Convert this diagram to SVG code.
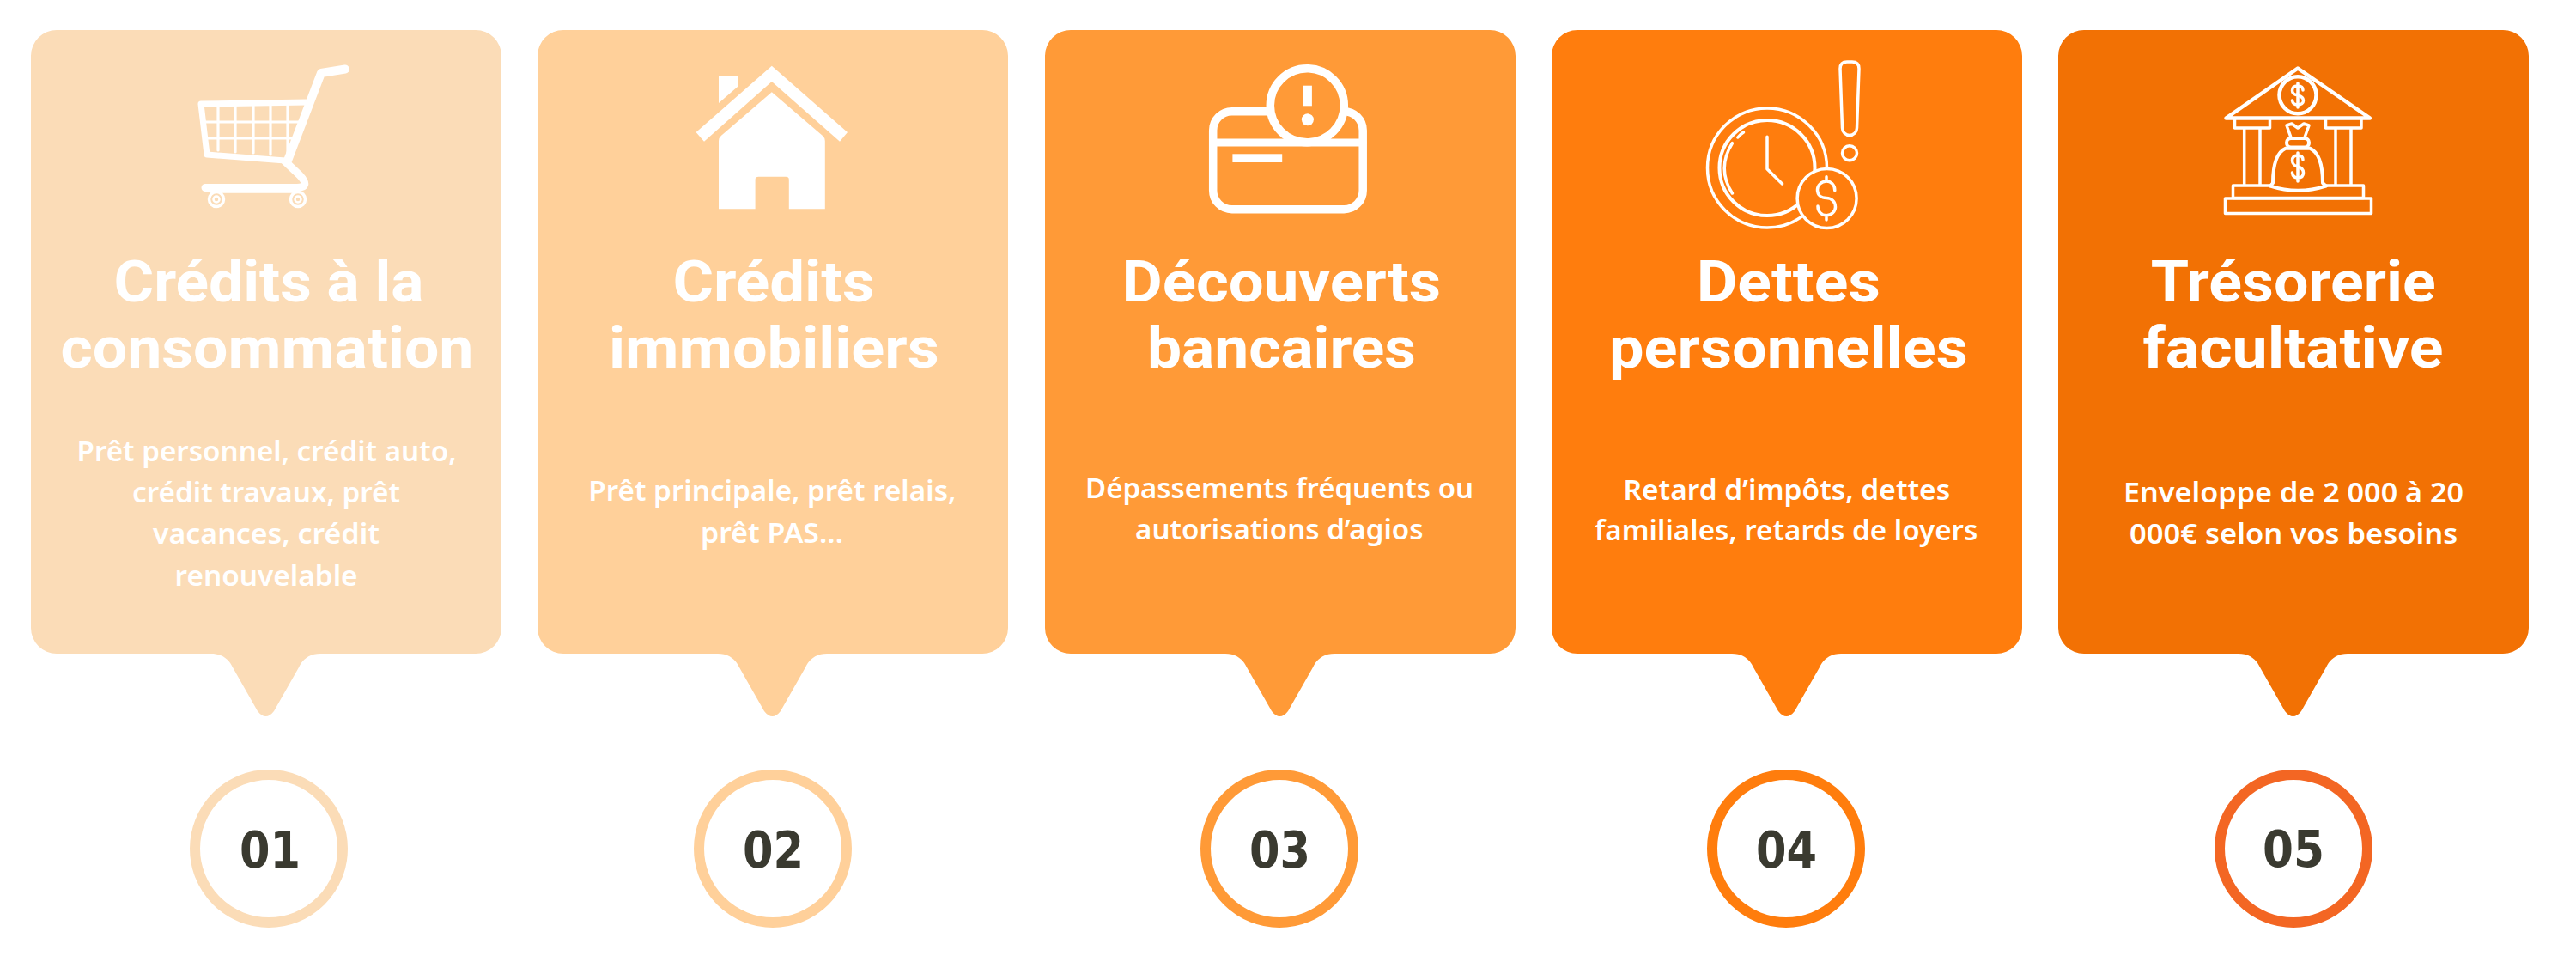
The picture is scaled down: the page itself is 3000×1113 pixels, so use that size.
<svg xmlns="http://www.w3.org/2000/svg" width="3000" height="1113" viewBox="0 0 3000 1113">
<style>
text{font-family:"Noto Sans","Open Sans","Liberation Sans",sans-serif;fill:#fff}
.t{font-size:66.500px;font-weight:700;font-family:Roboto,"Noto Sans",sans-serif}
.b{font-size:33px;font-weight:600}
.n{font-size:58px;font-weight:700;fill:#3a3a30;font-family:"DejaVu Sans",sans-serif}
.ring{fill:#fff;stroke-width:12}
.ic{fill:none;stroke:#fff;stroke-linecap:round;stroke-linejoin:round}
.w{fill:#fff}
</style>
<rect width="3000" height="1113" fill="#fff"/>
<g id="node-1">
<path fill="#fbdcb7" d="M66 35H554A30 30 0 0 1 584 65V731A30 30 0 0 1 554 761H373C360 761 352 768 348 777L319 828Q309.500 840 300 828L271 777C267 768 259 761 246 761H66A30 30 0 0 1 36 731V65A30 30 0 0 1 66 35Z"/>
<g id="icon-cart">
<path class="ic" stroke-width="10" d="M402 80.500L374 85L335 187"/>
<path class="ic" stroke-width="7" d="M357 119L234 121L241 180L332 187"/>
<path class="ic" stroke-width="3.200" d="M254 122V175M274 122V177M295 122V178M315 122V180M335 121V178M238 142H348M240 161H341"/>
<path class="ic" stroke-width="9" d="M332 188L349 204Q362 218 346 218.500H239"/>
<path class="ic" stroke-width="2.500" d="M246 223.500H345"/>
<circle class="ic" stroke-width="3.500" cx="252" cy="232" r="8.500"/><circle class="ic" stroke-width="2.500" cx="252" cy="232" r="3.500"/>
<circle class="ic" stroke-width="3.500" cx="347" cy="232" r="8.500"/><circle class="ic" stroke-width="2.500" cx="347" cy="232" r="3.500"/>
</g>
<text class="t" x="132.500" y="351" textLength="361" lengthAdjust="spacingAndGlyphs">Crédits à la</text>
<text class="t" x="70.500" y="428" textLength="481" lengthAdjust="spacingAndGlyphs">consommation</text>
<text class="b" x="89.500" y="536.700" textLength="442" lengthAdjust="spacingAndGlyphs">Prêt personnel, crédit auto,</text>
<text class="b" x="154" y="585" textLength="312" lengthAdjust="spacingAndGlyphs">crédit travaux, prêt</text>
<text class="b" x="178" y="633" textLength="264" lengthAdjust="spacingAndGlyphs">vacances, crédit</text>
<text class="b" x="203.600" y="681.700" textLength="213" lengthAdjust="spacingAndGlyphs">renouvelable</text>
<circle class="ring" stroke="#fbdcb7" cx="313" cy="988" r="86"/>
<text class="n" x="279" y="1010" textLength="71" lengthAdjust="spacingAndGlyphs">01</text>
</g>
<g id="node-2">
<path fill="#ffd09a" d="M656 35H1144A30 30 0 0 1 1174 65V731A30 30 0 0 1 1144 761H963C950 761 942 768 938 777L909 828Q899.500 840 890 828L861 777C857 768 849 761 836 761H656A30 30 0 0 1 626 731V65A30 30 0 0 1 656 35Z"/>
<g id="icon-house">
<polygon class="w" points="898.800,76.700 987,154 978,164.700 898.800,95 820,164.700 810.600,154"/>
<polygon class="w" points="837,88.300 859,88.300 859,101 837,120"/>
<path class="w" d="M898.800 107.300L958 158Q960.800 160.500 960.800 164V243.300H918.800V209Q918.800 205.700 915 205.700H883.500Q879.600 205.700 879.600 209V243.300H837V164Q837 160.500 839.800 158Z"/>
</g>
<text class="t" x="783.500" y="351" textLength="234.700" lengthAdjust="spacingAndGlyphs">Crédits</text>
<text class="t" x="709" y="428" textLength="384.700" lengthAdjust="spacingAndGlyphs">immobiliers</text>
<text class="b" x="685.300" y="582.700" textLength="428" lengthAdjust="spacingAndGlyphs">Prêt principale, prêt relais,</text>
<text class="b" x="816" y="631.700" textLength="166" lengthAdjust="spacingAndGlyphs">prêt PAS...</text>
<circle class="ring" stroke="#ffd09a" cx="900" cy="988" r="86"/>
<text class="n" x="865" y="1010" textLength="71" lengthAdjust="spacingAndGlyphs">02</text>
</g>
<g id="node-3">
<path fill="#ff9a37" d="M1247 35H1735A30 30 0 0 1 1765 65V731A30 30 0 0 1 1735 761H1554C1541 761 1533 768 1529 777L1500 828Q1490.500 840 1481 828L1452 777C1448 768 1440 761 1427 761H1247A30 30 0 0 1 1217 731V65A30 30 0 0 1 1247 35Z"/>
<g id="icon-card">
<rect class="ic" stroke-width="9.500" x="1412.700" y="129.700" width="174.500" height="114" rx="22"/>
<path class="ic" stroke-width="9" d="M1412.700 166H1587"/>
<rect class="w" x="1435.400" y="179.300" width="57.800" height="9.700"/>
<circle fill="#ff9a37" stroke="#fff" stroke-width="9.500" cx="1522.300" cy="122.700" r="43"/>
<rect class="w" x="1517.900" y="99.700" width="10" height="23.600"/>
<circle class="w" cx="1522.900" cy="139.300" r="7"/>
</g>
<text class="t" x="1306.500" y="351" textLength="371.600" lengthAdjust="spacingAndGlyphs">Découverts</text>
<text class="t" x="1336" y="428" textLength="313" lengthAdjust="spacingAndGlyphs">bancaires</text>
<text class="b" x="1264" y="580" textLength="452" lengthAdjust="spacingAndGlyphs">Dépassements fréquents ou</text>
<text class="b" x="1322" y="628" textLength="335.600" lengthAdjust="spacingAndGlyphs">autorisations d’agios</text>
<circle class="ring" stroke="#ff9a37" cx="1490" cy="988" r="86"/>
<text class="n" x="1455" y="1010" textLength="71" lengthAdjust="spacingAndGlyphs">03</text>
</g>
<g id="node-4">
<path fill="#ff7d0d" d="M1837 35H2325A30 30 0 0 1 2355 65V731A30 30 0 0 1 2325 761H2144C2131 761 2123 768 2119 777L2090 828Q2080.500 840 2071 828L2042 777C2038 768 2030 761 2017 761H1837A30 30 0 0 1 1807 731V65A30 30 0 0 1 1837 35Z"/>
<g id="icon-clock">
<circle class="ic" stroke-width="3.500" cx="2058" cy="195.500" r="69.500"/>
<circle class="ic" stroke-width="4" cx="2058" cy="195.500" r="55.500"/>
<path class="ic" stroke-width="3.500" d="M2017.400 166.700Q1999 196 2017.400 225M2023.900 160Q2026.500 156.500 2030.400 154M2058 159.300V196.700L2075.500 214"/>
<circle fill="#ff7d0d" stroke="#fff" stroke-width="3.500" cx="2127.600" cy="231" r="34.500"/>
<path class="ic" stroke-width="3.500" d="M2136.800 221.700C2136.800 215 2132 211 2127 211C2121 211 2116.500 216 2116.500 221C2116.500 227 2121 230.500 2127 230.500C2133 230.500 2137.500 235 2137.500 241C2137.500 246 2133 250.700 2127 250.700C2121 250.700 2117 246 2117 240M2127 205.700V211M2127 250.700V256"/>
<path class="ic" stroke-width="3.500" d="M2143 80Q2143 72 2151 72H2157Q2165 72 2165 80L2162.500 149A8.500 8.500 0 0 1 2145.500 149Z"/>
<circle class="ic" stroke-width="3.500" cx="2154" cy="178.300" r="8.500"/>
</g>
<text class="t" x="1975.700" y="351" textLength="214.300" lengthAdjust="spacingAndGlyphs">Dettes</text>
<text class="t" x="1874" y="428" textLength="417.700" lengthAdjust="spacingAndGlyphs">personnelles</text>
<text class="b" x="1890.500" y="581.700" textLength="380.700" lengthAdjust="spacingAndGlyphs">Retard d’impôts, dettes</text>
<text class="b" x="1857" y="629" textLength="446.400" lengthAdjust="spacingAndGlyphs">familiales, retards de loyers</text>
<circle class="ring" stroke="#ff7d0d" cx="2080" cy="988" r="86"/>
<text class="n" x="2045" y="1010" textLength="71" lengthAdjust="spacingAndGlyphs">04</text>
</g>
<g id="node-5">
<path fill="#f27104" d="M2427 35H2915A30 30 0 0 1 2945 65V731A30 30 0 0 1 2915 761H2734C2721 761 2713 768 2709 777L2680 828Q2670.500 840 2661 828L2632 777C2628 768 2620 761 2607 761H2427A30 30 0 0 1 2397 731V65A30 30 0 0 1 2427 35Z"/>
<g id="icon-bank">
<path class="ic" stroke-width="4.500" d="M2592.500 137.500L2676 79.500L2760 137.500Z"/>
<circle fill="#f27104" stroke="#fff" stroke-width="4.500" cx="2676" cy="110.800" r="21.500"/>
<path class="ic" stroke-width="3.500" d="M2682 105C2682 101 2679 100 2676 100C2672 100 2669.500 102 2669.500 105.500C2669.500 109 2673 110.500 2676 111C2680 112 2682.500 113.500 2682.500 117C2682.500 120 2680 122 2676 122C2672.500 122 2670 120.500 2669.500 117M2676 97V125"/>
<path class="ic" stroke-width="3.500" d="M2602.500 139V149H2643.500V139M2708.500 139V149H2750V139"/>
<path class="ic" stroke-width="3.500" d="M2613.700 150V215M2632 150V215M2720 150V215M2738 150V215"/>
<rect class="ic" stroke-width="3.500" x="2600.500" y="216" width="152" height="14.500"/>
<rect class="ic" stroke-width="3.500" x="2591.500" y="231" width="170" height="17.500"/>
<path fill="#f27104" stroke="#fff" stroke-width="4" stroke-linejoin="round" d="M2662 172.700C2650 178 2647 195 2647 213L2644 216.700Q2676 227 2709 216.700L2705 213C2705 195 2702 178 2690 172.700Z"/>
<path class="ic" stroke-width="3.500" d="M2668 160L2663 146L2669 144L2676 149L2683 144L2689 146L2684 160"/>
<rect fill="#f27104" stroke="#fff" stroke-width="4" x="2663" y="161" width="26" height="10.500" rx="5"/>
<path class="ic" stroke-width="3.500" d="M2682 186C2682 182 2679 181 2676 181C2672 181 2669.500 183 2669.500 187C2669.500 191 2673 193.500 2676 194C2680 195 2682.500 197 2682.500 201C2682.500 205 2680 207 2676 207C2672.500 207 2670 205.500 2669.500 201M2676 178V211"/>
</g>
<text class="t" x="2504.700" y="351" textLength="332" lengthAdjust="spacingAndGlyphs">Trésorerie</text>
<text class="t" x="2495.500" y="428" textLength="350" lengthAdjust="spacingAndGlyphs">facultative</text>
<text class="b" x="2473" y="585" textLength="396" lengthAdjust="spacingAndGlyphs">Enveloppe de 2 000 à 20</text>
<text class="b" x="2480" y="633" textLength="382.400" lengthAdjust="spacingAndGlyphs">000€ selon vos besoins</text>
<circle class="ring" stroke="#f36623" cx="2671" cy="988" r="86"/>
<text class="n" x="2635" y="1009" textLength="72" lengthAdjust="spacingAndGlyphs">05</text>
</g>
<g id="connectors"/>
</svg>
